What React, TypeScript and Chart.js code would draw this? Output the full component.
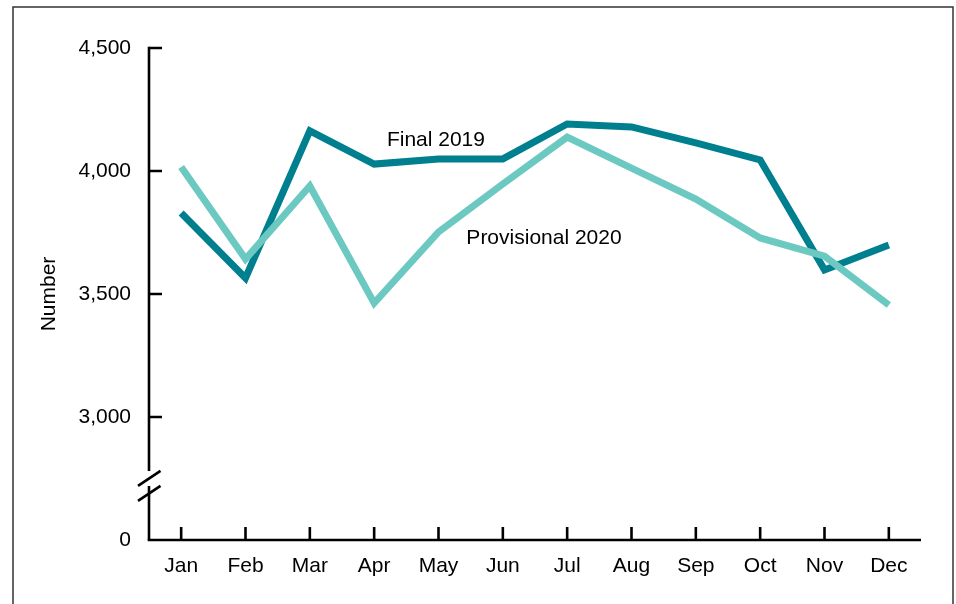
import { useEffect, useRef } from 'react';
import { Chart, registerables } from 'chart.js';

Chart.register(...registerables);

const months = ['Jan', 'Feb', 'Mar', 'Apr', 'May', 'Jun', 'Jul', 'Aug', 'Sep', 'Oct', 'Nov', 'Dec'];
const final2019 = [3829, 3565, 4163, 4028, 4049, 4049, 4191, 4179, 4114, 4045, 3598, 3699];
const provisional2020 = [4016, 3642, 3939, 3463, 3752, 3947, 4138, 4012, 3886, 3728, 3654, 3455];
const yTickValues = [2500, 3000, 3500, 4000, 4500];
const yTickLabels = ['0', '3,000', '3,500', '4,000', '4,500'];
const seriesLabels = ['Final 2019', 'Provisional 2020'];

const FONT = '"Liberation Sans", Arial, sans-serif';
const FS = 21;
const DARK = '#007F8E';
const LIGHT = '#6CC9C2';

const decorPlugin = {
  id: 'decor',
  afterDraw(chart: any) {
    const ctx = chart.ctx as CanvasRenderingContext2D;
    const x = chart.scales.x;
    const y = chart.scales.y;
    const area = chart.chartArea;
    ctx.save();
    // frame
    ctx.strokeStyle = '#333';
    ctx.lineWidth = 1.5;
    ctx.strokeRect(13, 7, 940, 640);

    ctx.strokeStyle = '#000';
    ctx.lineWidth = 2.6;
    ctx.lineCap = 'butt';
    const ax = area.left;
    const yTop = y.getPixelForValue(4500);
    const yZero = y.getPixelForValue(2500);
    const yBreak = y.getPixelForValue(2750);
    // y axis with break
    ctx.beginPath();
    ctx.moveTo(ax, yTop - 1.3);
    ctx.lineTo(ax, yBreak - 7.5);
    ctx.moveTo(ax, yBreak + 7.5);
    ctx.lineTo(ax, yZero);
    ctx.stroke();
    // break slashes
    ctx.beginPath();
    ctx.moveTo(ax - 11, yBreak + 7.3);
    ctx.lineTo(ax + 11.5, yBreak - 7.7);
    ctx.moveTo(ax - 11, yBreak + 22.3);
    ctx.lineTo(ax + 11.5, yBreak + 7.3);
    ctx.stroke();
    // y ticks (inside)
    ctx.beginPath();
    yTickValues.forEach((v) => {
      if (v === 2500) return;
      const py = y.getPixelForValue(v);
      ctx.moveTo(ax, py);
      ctx.lineTo(ax + 13, py);
    });
    ctx.stroke();
    // x axis
    ctx.beginPath();
    ctx.moveTo(ax - 1.3, yZero);
    ctx.lineTo(area.right, yZero);
    ctx.stroke();
    // x ticks
    ctx.beginPath();
    months.forEach((_, i) => {
      const px = x.getPixelForValue(i);
      ctx.moveTo(px, yZero);
      ctx.lineTo(px, yZero - 13);
    });
    ctx.stroke();

    // series labels
    ctx.fillStyle = '#000';
    ctx.font = `${FS}px ${FONT}`;
    ctx.textAlign = 'center';
    ctx.textBaseline = 'middle';
    ctx.fillText(seriesLabels[0], x.getPixelForValue(3.96), y.getPixelForValue(4126));
    ctx.fillText(seriesLabels[1], x.getPixelForValue(5.64), y.getPixelForValue(3728));
    ctx.restore();
  },
};

export default function App() {
  const ref = useRef<HTMLCanvasElement | null>(null);
  useEffect(() => {
    if (!ref.current) return;
    const chart = new Chart(ref.current, {
      type: 'line',
      data: {
        labels: months,
        datasets: [
          {
            label: seriesLabels[0],
            data: final2019,
            borderColor: DARK,
            borderWidth: 7,
            pointRadius: 0,
            tension: 0,
            borderJoinStyle: 'miter',
            borderCapStyle: 'butt',
            order: 1,
          },
          {
            label: seriesLabels[1],
            data: provisional2020,
            borderColor: LIGHT,
            borderWidth: 7,
            pointRadius: 0,
            tension: 0,
            borderJoinStyle: 'miter',
            borderCapStyle: 'butt',
            order: 0,
          },
        ],
      },
      options: {
        responsive: false,
        animation: false,
        layout: { padding: { left: 0, top: 48, right: 35, bottom: 0 } },
        plugins: { legend: { display: false }, tooltip: { enabled: false } },
        scales: {
          x: {
            offset: true,
            border: { display: false },
            grid: { display: false, drawTicks: false },
            ticks: {
              color: '#000',
              font: { family: FONT, size: FS },
              padding: 14,
              maxRotation: 0,
              autoSkip: false,
            },
            afterFit: (s: any) => {
              s.height = 64;
            },
          },
          y: {
            min: 2500,
            max: 4500,
            border: { display: false },
            grid: { display: false, drawTicks: false },
            afterBuildTicks: (s: any) => {
              s.ticks = yTickValues.map((v) => ({ value: v }));
            },
            ticks: {
              color: '#000',
              font: { family: FONT, size: FS },
              padding: 18,
              callback: (v: any) => {
                const i = yTickValues.indexOf(Number(v));
                return i >= 0 ? yTickLabels[i] : '';
              },
            },
            title: {
              display: true,
              text: 'Number',
              color: '#000',
              font: { family: FONT, size: FS },
              padding: { top: 36.5, bottom: 0 },
            },
            afterFit: (s: any) => {
              s.width = 149;
            },
          },
        },
      },
      plugins: [decorPlugin],
    });
    return () => chart.destroy();
  }, []);
  return (
    <div style={{ position: 'fixed', left: 0, top: 0, width: 956, height: 604, background: '#fff' }}>
      <canvas ref={ref} width={956} height={604} style={{ display: 'block', width: 956, height: 604 }} />
    </div>
  );
}
